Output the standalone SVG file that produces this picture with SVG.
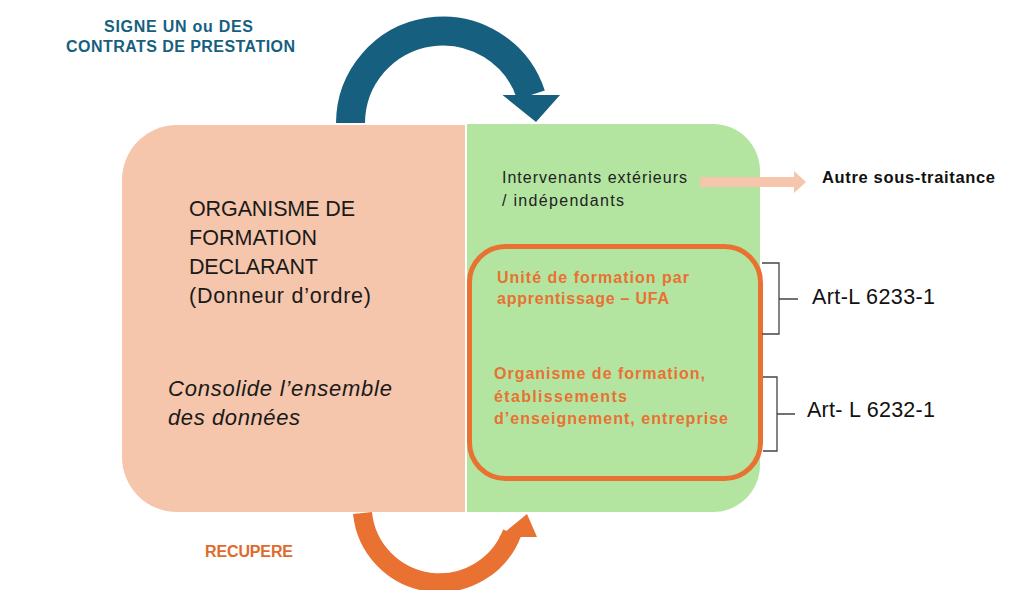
<svg xmlns="http://www.w3.org/2000/svg" width="1015" height="590" viewBox="0 0 1015 590">
<style>
.sans{font-family:"Liberation Sans",Arial,sans-serif}
.big{font-size:21.5px;fill:#1a1a1a}
.ital{font-size:22px;font-style:italic;fill:#1a1a1a}
.small{font-size:16px;fill:#222}
.orng{font-size:16px;font-weight:bold;fill:#E97132}
.art{font-size:21.5px;fill:#111}
.brk{fill:none;stroke:#444;stroke-width:1.3}
</style>
<rect width="1015" height="590" fill="#fff"/>
<g id="organisme">
  <path d="M177 125 H465 V512 H177 A55 55 0 0 1 122 457 V180 A55 55 0 0 1 177 125 Z" fill="#F5C6AB"/>
  <text class="sans big" x="189" y="216" textLength="166">ORGANISME DE</text>
  <text class="sans big" x="189" y="245" textLength="128">FORMATION</text>
  <text class="sans big" x="189" y="274" textLength="129">DECLARANT</text>
  <text class="sans big" x="189" y="303" textLength="182">(Donneur d’ordre)</text>
  <text class="sans ital" x="168" y="396" textLength="224">Consolide l’ensemble</text>
  <text class="sans ital" x="168" y="425" textLength="132">des données</text>
</g>
<g id="prestataires">
  <path d="M467 124 H713 A47 47 0 0 1 760 171 V465 A47 47 0 0 1 713 512 H467 Z" fill="#B3E5A1"/>
  <text class="sans small" x="502" y="183" textLength="185">Intervenants extérieurs</text>
  <text class="sans small" x="502" y="206" textLength="122">/ indépendants</text>
</g>
<g id="sous-groupe">
  <rect x="469.5" y="246.5" width="291" height="232" rx="36" fill="none" stroke="#E97132" stroke-width="5"/>
  <text class="sans orng" x="497" y="283" textLength="192">Unité de formation par</text>
  <text class="sans orng" x="497" y="304" textLength="172">apprentissage – UFA</text>
  <text class="sans orng" x="494" y="379" textLength="211">Organisme de formation,</text>
  <text class="sans orng" x="494" y="402" textLength="133">établissements</text>
  <text class="sans orng" x="494" y="424" textLength="234">d’enseignement, entreprise</text>
</g>
<g id="labels">
  <text class="sans" x="104" y="32" textLength="149" font-size="16" font-weight="bold" fill="#175F7F">SIGNE UN ou DES</text>
  <text class="sans" x="66" y="52" textLength="229" font-size="16" font-weight="bold" fill="#175F7F">CONTRATS DE PRESTATION</text>
  <text class="sans" x="205" y="557" textLength="88" font-size="16" font-weight="bold" fill="#E06A2C">RECUPERE</text>
  <text class="sans" x="822" y="183" textLength="173" font-size="16.5" font-weight="bold" fill="#111">Autre sous-traitance</text>
  <text class="sans art" x="812" y="304" textLength="123">Art-L 6233-1</text>
  <text class="sans art" x="807" y="417" textLength="128">Art- L 6232-1</text>
</g>
<g id="connectors">
  <path d="M350.5 123 A92.5 92.5 0 0 1 531 95" fill="none" stroke="#175F7F" stroke-width="29"/>
  <polygon points="502.5,95 560,95 536,122" fill="#175F7F"/>
  <path d="M362.5 513 A77.5 77.5 0 0 0 512 533" fill="none" stroke="#E97132" stroke-width="19"/>
  <polygon points="499,537 527,514 537,537" fill="#E97132"/>
  <rect x="700" y="177" width="95" height="10" fill="#F5C6AB"/>
  <polygon points="794,171 806,182 794,193" fill="#F5C6AB"/>
  <path class="brk" d="M762 263 H779 V334 H762 M779 299 H798"/>
  <path class="brk" d="M763 377 H777 V451 H763 M777 414 H795"/>
</g>
</svg>
